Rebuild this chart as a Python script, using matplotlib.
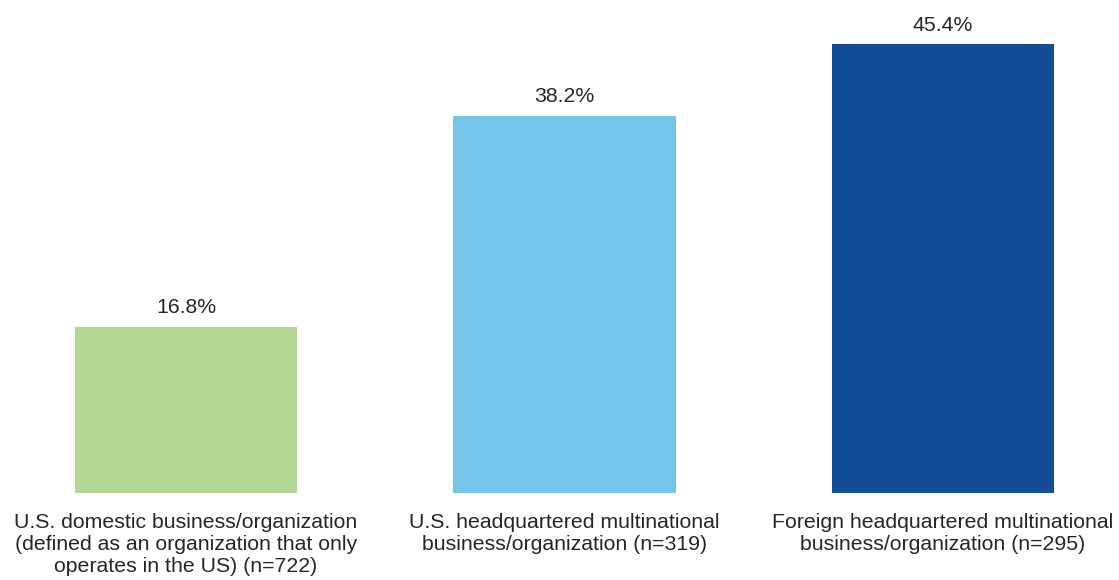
import matplotlib
matplotlib.use("Agg")
import matplotlib.pyplot as plt

categories = [
    "U.S. domestic business/organization\n(defined as an organization that only\noperates in the US) (n=722)",
    "U.S. headquartered multinational\nbusiness/organization (n=319)",
    "Foreign headquartered multinational\nbusiness/organization (n=295)",
]
values = [16.8, 38.2, 45.4]
labels = ["16.8%", "38.2%", "45.4%"]
colors = ["#b3d893", "#75c4e9", "#134c97"]

plt.rcParams['font.family'] = ['Liberation Sans', 'DejaVu Sans']
fig = plt.figure(figsize=(11.19, 5.80), dpi=100)
ax = fig.add_axes([0, 87/580, 1, 493/580])
x = list(range(len(values)))
bars = ax.bar(x, values, width=0.587, color=colors)
ax.set_xlim(-186/378.5, (1119-186)/378.5)
ax.set_ylim(0, 493/9.88)
for xi, v, l in zip(x, values, labels):
    ax.annotate(l, (xi, v), xytext=(0, 7), textcoords='offset points',
                ha='center', va='bottom', fontsize=15.3, color='#262626')
ax.set_xticks(x)
ax.set_xticklabels(categories, fontsize=15.3, color='#262626', linespacing=1.2)
ax.tick_params(axis='x', length=0, pad=14.5)
ax.set_yticks([])
for s in ax.spines.values():
    s.set_visible(False)
fig.savefig("out.png", dpi=100)
